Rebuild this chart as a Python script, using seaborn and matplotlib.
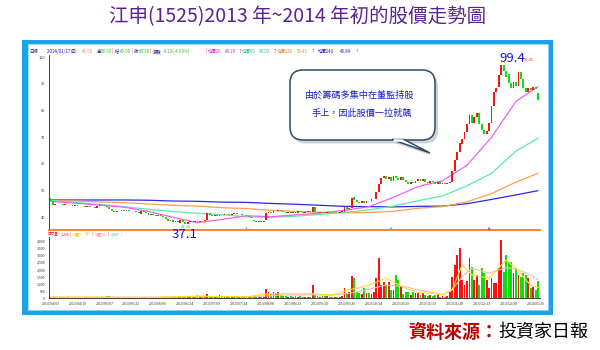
import matplotlib
matplotlib.use("Agg")
import matplotlib.pyplot as plt
import seaborn as sns
import numpy as np
from matplotlib.patches import Rectangle, FancyBboxPatch, Polygon
from matplotlib.lines import Line2D

# ---------------- data ----------------
open_px = [47.2, 46.2, 44.8, 45.0, 44.9, 45.1, 44.7, 44.8, 44.5, 44.6,
           44.3, 44.5, 44.4, 44.2, 44.4, 44.0, 44.1, 43.8, 43.9, 43.6,
           44.3, 44.8, 44.5, 44.2, 43.8, 43.0, 42.2, 42.0, 42.5, 42.3,
           42.6, 42.4, 42.7, 42.5, 42.2, 42.4, 42.0, 41.4, 42.4, 42.0,
           41.5, 41.0, 41.2, 40.8, 40.5, 40.9, 40.4, 40.0, 39.2, 38.6,
           38.9, 38.4, 38.7, 37.8, 39.0, 38.3, 37.6, 38.2, 38.5, 38.3,
           38.7, 38.4, 38.8, 38.5, 38.9, 41.6, 41.0, 40.6, 40.8, 40.5,
           41.0, 40.7, 41.2, 41.4, 41.0, 41.3, 41.5, 41.1, 41.3, 40.9,
           40.7, 40.4, 40.1, 39.0, 38.6, 38.4, 38.7, 38.3, 38.9, 41.5,
           42.0, 41.8, 42.4, 42.2, 42.6, 42.3, 42.0, 41.6, 41.9, 41.7,
           42.1, 41.8, 42.2, 42.0, 41.7, 42.0, 42.3, 42.0, 43.7, 42.0,
           41.8, 42.1, 41.9, 41.6, 41.9, 41.7, 41.5, 41.8, 41.6, 41.9,
           42.0, 43.8, 43.2, 43.6, 47.8, 46.4, 45.6, 45.2, 46.0, 45.5,
           46.3, 46.0, 46.8, 47.0, 49.5, 52.6, 54.8, 55.6, 54.2, 55.0,
           53.6, 55.5, 54.6, 53.9, 55.2, 54.0, 53.2, 52.5, 53.4, 52.8,
           53.6, 54.3, 53.6, 54.2, 53.4, 53.0, 53.8, 53.2, 52.6, 53.1,
           52.5, 52.9, 52.4, 52.8, 53.2, 57.2, 61.4, 64.6, 67.6, 69.2,
           72.0, 74.8, 78.5, 75.2, 77.6, 79.2, 75.0, 72.8, 71.2, 72.4,
           75.5, 81.6, 86.8, 89.0, 93.5, 97.0, 95.0, 93.6, 90.4, 88.6,
           90.6, 89.2, 94.5, 91.8, 88.4, 87.0, 88.6, 87.6, 88.8, 86.6]
close_px = [46.0, 44.6, 45.0, 44.9, 45.1, 44.7, 44.8, 44.5, 44.6, 44.3,
            44.5, 44.4, 44.2, 44.4, 44.0, 44.1, 43.8, 43.9, 43.6, 44.3,
            44.8, 44.5, 44.2, 43.8, 43.0, 42.2, 42.0, 42.5, 42.3, 42.6,
            42.4, 42.7, 42.5, 42.2, 42.4, 42.0, 41.6, 42.4, 42.0, 41.5,
            41.0, 41.2, 40.8, 40.5, 40.9, 40.4, 40.0, 39.2, 38.6, 38.9,
            38.4, 38.7, 38.1, 39.0, 38.3, 37.6, 38.2, 38.5, 38.3, 38.7,
            38.4, 38.8, 38.5, 38.9, 41.6, 41.0, 40.6, 40.8, 40.5, 41.0,
            40.7, 41.2, 41.4, 41.0, 41.3, 41.5, 41.1, 41.3, 40.9, 40.7,
            40.4, 40.1, 39.8, 38.6, 38.4, 38.7, 38.3, 38.5, 41.5, 42.0,
            41.8, 42.4, 42.2, 42.6, 42.3, 42.0, 41.6, 41.9, 41.7, 42.1,
            41.8, 42.2, 42.0, 41.7, 42.0, 42.3, 42.0, 43.7, 42.0, 41.8,
            42.1, 41.9, 41.6, 41.9, 41.7, 41.5, 41.8, 41.6, 41.9, 42.3,
            43.8, 43.2, 43.6, 47.4, 46.4, 45.6, 45.2, 46.0, 45.5, 46.3,
            46.0, 46.8, 47.0, 49.5, 52.6, 54.8, 55.6, 54.2, 55.0, 53.6,
            55.5, 54.6, 53.9, 55.2, 54.0, 53.2, 52.5, 53.4, 52.8, 53.6,
            54.3, 53.6, 54.2, 53.4, 53.0, 53.8, 53.2, 52.6, 53.1, 52.5,
            52.9, 52.4, 52.8, 53.2, 57.2, 61.4, 64.6, 67.8, 69.2, 72.0,
            74.8, 78.5, 75.2, 77.6, 79.2, 75.0, 72.8, 71.2, 72.4, 75.2,
            81.6, 86.8, 88.6, 93.5, 97.0, 95.0, 92.6, 90.4, 88.6, 90.6,
            89.2, 94.5, 91.8, 88.4, 87.0, 88.6, 87.6, 88.8, 88.0, 83.9]
volume = [120, 110, 60, 50, 70, 40, 50, 60, 45, 55, 40, 50, 60, 45, 70, 50, 40, 60, 80, 90,
          70, 60, 90, 160, 140, 120, 90, 70, 60, 50, 55, 45, 60, 50, 40, 55, 70, 80, 60, 50,
          60, 70, 50, 60, 45, 55, 70, 90, 100, 80, 60, 70, 80, 110, 90, 100, 80, 70, 90, 110,
          230, 130, 120, 140, 280, 180, 120, 100, 90, 200, 150, 110, 130, 100, 90, 120, 80, 100, 90, 110,
          90, 80, 100, 150, 90, 70, 80, 90,
          650, 420, 300, 460, 350, 460, 250, 180,
          150, 120, 160, 110, 130, 100, 140, 120, 90, 110, 100,
          920, 250, 150, 120, 130, 160, 160, 100, 110, 90, 120, 100, 150,
          700, 300, 460, 1550, 1435, 460, 350, 300, 700, 400, 350, 300, 420, 1390, 2780,
          926, 1160, 900, 1160, 580, 580, 1620, 1270, 880, 300, 460, 460, 200, 460, 350,
          350, 230, 390, 230, 185, 200, 150, 200, 300, 115, 160, 120, 160, 460,
          1500, 2310, 3010, 3520, 1270, 926, 1200, 2780, 2200, 1270, 1620, 926, 2080, 1736, 1270, 700,
          1390, 1040, 1040, 2080, 4050, 1850, 3010, 2550, 2550, 1736, 2080, 1620, 1500, 1736, 1620,
          1390, 700, 810, 580, 1235]

ma_idx = [0, 10, 20, 30, 40, 50, 60, 70, 80, 90, 100, 110, 120, 130, 140, 150, 160, 170, 180, 190, 199]
ma20 = [46.0, 45.3, 44.6, 43.8, 42.2, 40.0, 38.0, 39.2, 40.6, 40.2, 40.9, 41.6, 42.6, 44.0, 47.5,
        51.5, 53.7, 59.5, 70.0, 83.5, 89.0]
ma60 = [46.3, 45.6, 44.8, 44.0, 43.0, 42.2, 41.5, 41.0, 40.2, 40.0, 40.4, 41.1, 41.8, 42.8, 44.2,
        46.2, 48.0, 51.8, 56.5, 64.8, 69.7]
ma120 = [46.3, 46.1, 45.8, 45.5, 45.0, 44.5, 44.2, 43.6, 43.3, 42.6, 42.2, 41.9, 41.7, 41.8, 42.2,
         43.4, 44.0, 45.8, 48.9, 53.2, 56.5]
ma240 = [46.5, 46.5, 46.5, 46.5, 46.4, 46.1, 46.0, 45.7, 45.6, 45.2, 44.9, 44.5, 44.1, 44.0, 43.9,
         44.1, 44.2, 45.1, 46.7, 48.4, 50.0]

vma_idx = [0, 20, 40, 60, 80, 88, 95, 107, 115, 122, 128, 137, 145, 150, 156, 160, 164, 168, 172,
           179, 186, 190, 196, 199]
vma5 = [90, 80, 60, 150, 100, 300, 320, 320, 230, 600, 800, 1390, 700, 400, 350, 250, 600, 2310,
        1620, 1390, 2660, 2080, 900, 750]
vma20 = [80, 80, 70, 110, 110, 160, 230, 240, 220, 350, 550, 926, 800, 580, 400, 230, 600, 1500,
         2080, 1750, 2130, 2050, 1620, 1270]

date_labels = ["2013/04/03", "2013/04/19", "2013/05/07", "2013/05/22", "2013/06/06", "2013/06/24",
               "2013/07/09", "2013/07/24", "2013/08/08", "2013/08/23", "2013/09/10", "2013/09/26",
               "2013/10/14", "2013/10/29", "2013/11/13", "2013/11/28", "2013/12/13", "2013/12/30",
               "2014/01/15"]
price_ticks = [40, 50, 60, 70, 80, 90, 100]
vol_ticks = [0, 500, 1000, 1500, 2000, 2500, 3000, 3500, 4000]
signal_idx = [80, 139, 179]
signal_colors = ["#ff8a30", "#30d080", "#e020e0"]

title = "江申(1525)2013 年~2014 年初的股價走勢圖"
bubble_lines = ["由於籌碼多集中在董監持股", "手上，因此股價一拉就飆"]

# ---------------- style ----------------
sns.set_style("white")
plt.rcParams['font.family'] = ['Noto Sans CJK TC', 'DejaVu Sans']

W, H = 600, 350
fig = plt.figure(figsize=(6, 3.5), dpi=100)
fig.patch.set_facecolor("white")


def frac(x0, y0, x1, y1):
    return [x0 / W, 1 - y1 / H, (x1 - x0) / W, (y1 - y0) / H]


bg = fig.add_axes([0, 0, 1, 1], zorder=0)
bg.set_xlim(0, W); bg.set_ylim(H, 0); bg.axis("off")
bg.add_patch(Rectangle((22, 40), 531, 275, color="#1aa3e8", lw=0))
bg.add_patch(Rectangle((28, 44), 520, 266, color="white", lw=0))
bg.add_patch(Rectangle((28, 44), 520, 266, fill=False, ec="#9ed6f5", lw=0.6))

axp = fig.add_axes(frac(48.7, 55, 540, 230), zorder=2)
axv = fig.add_axes(frac(48.7, 237, 540, 298.3), zorder=2)
for a in (axp, axv):
    a.set_facecolor("none")

o = np.array(open_px); c = np.array(close_px)
idx = np.arange(len(c))
up = c >= o
cols = np.where(up, "#ff1010", "#10dd10")

# candles
axp.bar(idx, np.maximum(np.abs(c - o), 0.2), bottom=np.minimum(o, c), width=0.75,
        color=cols, linewidth=0, zorder=3)
# moving averages
for vals, col in [(ma240, "#2a2ae6"), (ma120, "#ffa050"), (ma60, "#55eea5"), (ma20, "#f060f0")]:
    sns.lineplot(x=ma_idx, y=vals, ax=axp, color=col, lw=0.9, zorder=2)

axp.set_xlim(-0.73, 199.8)
axp.set_ylim(35.24, 100.86)
axp.set_yticks(price_ticks)
axp.set_xticks([])
axp.tick_params(axis="y", labelsize=2.8, length=1.5, width=0.4, pad=1, colors="#333333")
for s in ("top", "right"):
    axp.spines[s].set_visible(False)
axp.spines["left"].set_linewidth(0.6); axp.spines["left"].set_color("#222222")
axp.spines["bottom"].set_linewidth(1.4); axp.spines["bottom"].set_color("#f08040")
axp.scatter(signal_idx, [35.9] * len(signal_idx), marker="^", s=5, c=signal_colors,
            clip_on=False, zorder=6, linewidths=0)

# volume
v = np.array(volume)
axv.bar(idx, v, width=0.75, color=cols, linewidth=0, zorder=3)
sns.lineplot(x=vma_idx, y=vma20, ax=axv, color="#ffb8a8", lw=0.8, zorder=4)
sns.lineplot(x=vma_idx, y=vma5, ax=axv, color="#ffe020", lw=0.8, zorder=4)
axv.set_xlim(-0.73, 199.8)
axv.set_ylim(0, 4257)
axv.set_yticks(vol_ticks)
axv.set_yticklabels([f"{t:,}" for t in vol_ticks])
axv.set_xticks(np.arange(len(date_labels)) * 11)
axv.set_xticklabels(date_labels)
axv.tick_params(axis="y", labelsize=2.5, length=1.5, width=0.4, pad=1, colors="#333333")
axv.tick_params(axis="x", labelsize=2.5, length=1.5, width=0.4, pad=1, colors="#333333")
for s in ("top", "right"):
    axv.spines[s].set_visible(False)
for s in ("left", "bottom"):
    axv.spines[s].set_linewidth(0.6); axv.spines[s].set_color("#222222")

# ---------------- overlay text & callout ----------------
ov = fig.add_axes([0, 0, 1, 1], zorder=5)
ov.set_xlim(0, W); ov.set_ylim(H, 0); ov.axis("off"); ov.patch.set_alpha(0)

ov.text(298, 17, title, ha="center", va="center", fontsize=14, color="#5b2390")

ov.text(498, 332, "資料來源：", ha="right", va="center", fontsize=13, color="#c00000",
        fontweight="bold")
ov.text(498, 332, "投資家日報", ha="left", va="center", fontsize=13, color="black")

# header of price panel
hdr = [("日線", 29, "#101080"), ("2014/01/17 四", 47, "#1010c0"), ("86.60", 82, "#ff9050"),
       ("高", 97, "#101080"), ("88.60", 101, "#30c030"), ("|", 112, "#ff2020"),
       ("低", 115, "#101080"), ("83.00", 120, "#30c030"), ("|", 131, "#ff2020"),
       ("收", 134, "#101080"), ("83.90", 139, "#30c030"), ("|", 150, "#ff2020"),
       ("漲跌", 153, "#101080"), ("-4.10(-4.66%)", 163, "#30c030"), ("|", 205, "#ff2020"),
       ("均價20", 208, "#e020e0"), ("88.29", 225, "#e020e0"), ("↑", 238, "#ff2020"),
       ("均價60", 242, "#20c080"), ("69.93", 259, "#20c080"), ("↑", 273, "#ff2020"),
       ("均價120", 277, "#ff8030"), ("56.41", 297, "#ff8030"), ("↑", 311, "#ff2020"),
       ("均價240", 318, "#2020e0"), ("49.89", 340, "#2020e0"), ("↑", 355, "#ff2020")]
for t, x, col in hdr:
    ov.text(x, 51.5, t, ha="left", va="center", fontsize=3.2, color=col)

vhdr = [("成交量", 48, "#ff1010"), ("1,235", 61, "#ff1010"), ("|", 70, "#ff1010"),
        ("均量5", 73, "#e8d000"), ("749", 85, "#e8d000"), ("|", 92, "#ff1010"),
        ("均量20", 95, "#ff9090"), ("|", 108, "#ff1010"), ("1,097", 111, "#30c030"),
        ("|", 121, "#30c030")]
for t, x, col in vhdr:
    ov.text(x, 234, t, ha="left", va="center", fontsize=2.6, color=col)

ov.text(529, 60, "99.40", ha="center", va="center", fontsize=3, color="#ff4040")
ov.text(512, 58, "99.4", ha="center", va="center", fontsize=9.5, color="#1515e0")
ov.text(186, 226.5, "37.10", ha="center", va="center", fontsize=3, color="#30c030")
ov.text(185, 235, "37.1", ha="center", va="center", fontsize=9.5, color="#1515e0")

# callout bubble
ov.add_patch(FancyBboxPatch((293, 73.5), 145, 70, boxstyle="round,pad=0,rounding_size=13",
                            fc="#9a9a9a", ec="none", alpha=0.45))
ov.add_patch(Polygon([(395, 143), (433, 156), (407, 143)], closed=True, fc="#9a9a9a",
                     ec="none", alpha=0.45))
ov.add_patch(FancyBboxPatch((290, 70), 145, 70, boxstyle="round,pad=0,rounding_size=13",
                            fc="white", ec="#2e4a6a", lw=1.1))
ov.add_patch(Polygon([(392, 139.5), (430, 153), (404, 139.5)], closed=True, fc="white",
                     ec="#2e4a6a", lw=1.1))
ov.add_line(Line2D([393.6, 402.4], [139.5, 139.5], color="white", lw=1.8))
ov.text(360, 95, bubble_lines[0], ha="center", va="center", fontsize=6.6, color="#1a1acc")
ov.text(362, 113, bubble_lines[1], ha="center", va="center", fontsize=6.6, color="#1a1acc")

fig.savefig("out.png", dpi=100, facecolor="white")
